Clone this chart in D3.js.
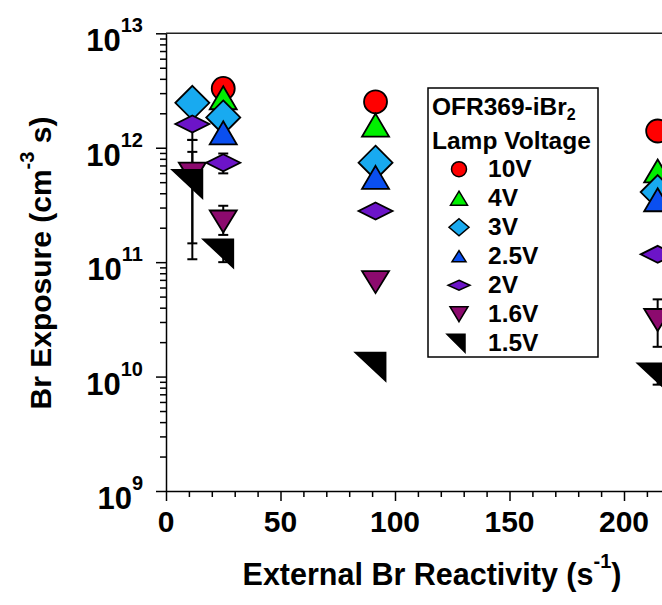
<!DOCTYPE html>
<html>
<head>
<meta charset="utf-8">
<script src="https://cdn.jsdelivr.net/npm/d3@7"></script>
<style>
  body { margin: 0; background: #fff; }
  svg { display: block; background: #fff; }
  text { font-family: "Liberation Sans", Arial, sans-serif; font-weight: bold; fill: #000; }
</style>
</head>
<body>
<svg id="chart"></svg>
<script>
var width = 662, height = 605;

// series, in drawing order
var voltages = ["10V", "4V", "3V", "2.5V", "2V", "1.6V", "1.5V"];
var colors = ["#ff0000", "#00f000", "#18aaf0", "#0a4ff0", "#6c14c8", "#8c0a6e", "#000000"];
var shapes = ["circle", "up", "diamond", "up", "flat", "down", "corner"];

// external Br reactivity (s-1)
var react10V = [25, 91.5, 214.7];
var react4V = [25, 91.5, 214.7];
var react3V = [11.5, 25, 91.5, 214.7];
var react25V = [25, 91.5, 214.7];
var react2V = [11.5, 25, 91.5, 214.7];
var react16V = [11.5, 25, 91.5, 214.7];
var react15V = [11.5, 25, 91.5, 214.7];

// Br exposure (cm-3 s)
var expo10V = [3.3e12, 2.52e12, 1.4e12];
var expo4V = [2.53e12, 1.46e12, 5.8e11];
var expo3V = [2.47e12, 1.84e12, 7.4e11, 4.1e11];
var expo25V = [1.25e12, 5.1e11, 3.25e11];
var expo2V = [1.61e12, 7.4e11, 2.8e11, 1.17e11];
var expo16V = [6.4e11, 2.44e11, 7.2e10, 3.36e10];
var expo15V = [5.3e11, 1.31e11, 1.34e10, 1.08e10];

// error bar ends (null = no bar)
var low2V = [1.17e12, 5.97e11, null, null];
var high2V = [2.2e12, 8.9e11, null, null];
var low16V = [1.46e11, 1.73e11, null, 1.82e10];
var high16V = [9.2e11, 3.11e11, null, 4.73e10];
var low15V = [1.06e11, 1.0e11, null, 8.5e9];
var high15V = [1.17e12, 1.56e11, null, 1.16e10];

var xMajor = [0, 50, 100, 150, 200];
var yMajor = [1e9, 1e10, 1e11, 1e12, 1e13];
var yExponents = ["9", "10", "11", "12", "13"];

var reacts = [react10V, react4V, react3V, react25V, react2V, react16V, react15V];
var expos = [expo10V, expo4V, expo3V, expo25V, expo2V, expo16V, expo15V];
var lows = [null, null, null, null, low2V, low16V, low15V];
var highs = [null, null, null, null, high2V, high16V, high15V];

// marker sizes [w, h] in plot and in legend
var plotSize = [[23, 23], [27, 23], [34, 34], [27, 23], [34, 17], [27, 22], [30, 28]];
var legendSize = [[15, 15], [17, 14], [20, 17], [14, 11], [22, 10], [18, 15], [18, 18]];

var svg = d3.select("#chart").attr("width", width).attr("height", height);

var x = d3.scaleLinear().domain([0, 240]).range([166, 166 + 240 * 2.29]);
var y = d3.scaleLog().domain([1e9, 1e13]).range([491, 33.3]);

// path of a marker, anchored on its centroid
function shapePath(shape, w, h) {
    if (shape == "circle") {
        var r = w / 2;
        return `M${-r},0A${r},${r} 0 1,0 ${r},0A${r},${r} 0 1,0 ${-r},0Z`;
    } else if (shape == "up") {
        return `M0,${-2 * h / 3}L${w / 2},${h / 3}L${-w / 2},${h / 3}Z`;
    } else if (shape == "down") {
        return `M0,${2 * h / 3}L${w / 2},${-h / 3}L${-w / 2},${-h / 3}Z`;
    } else if (shape == "corner") {
        return `M${-2 * w / 3},${-h / 3}L${w / 3},${-h / 3}L${w / 3},${2 * h / 3}Z`;
    }
    return `M0,${-h / 2}L${w / 2},0L0,${h / 2}L${-w / 2},0Z`;
}

// offset from box centre to centroid
function centroidShift(shape, w, h) {
    if (shape == "up") return [0, h / 6];
    if (shape == "down") return [0, -h / 6];
    if (shape == "corner") return [w / 6, -h / 6];
    return [0, 0];
}

// axes
var axisColor = "#000";
svg.append("g")
    .attr("transform", `translate(0,${y(1e9)})`)
    .call(d3.axisBottom(x).tickValues(xMajor).tickSize(10).tickSizeOuter(0).tickFormat(""));
var xMinor = d3.range(10, 240, 10).filter(d => d % 50 != 0);
svg.append("g")
    .attr("transform", `translate(0,${y(1e9)})`)
    .call(d3.axisBottom(x).tickValues(xMinor).tickSize(6).tickFormat(""))
    .select(".domain").remove();

svg.append("g")
    .attr("transform", `translate(${x(0)},0)`)
    .call(d3.axisLeft(y).tickValues(yMajor).tickSize(10).tickSizeOuter(0).tickFormat(""));
var yMinor = [];
for (let e = 9; e < 13; e++) {
    for (let m = 2; m < 10; m++) yMinor.push(m * Math.pow(10, e));
}
svg.append("g")
    .attr("transform", `translate(${x(0)},0)`)
    .call(d3.axisLeft(y).tickValues(yMinor).tickSize(6).tickFormat(""))
    .select(".domain").remove();

svg.append("line")
    .attr("x1", x(0)).attr("x2", x(240))
    .attr("y1", y(1e13)).attr("y2", y(1e13))
    .attr("stroke", "#222").attr("stroke-width", 1.5);

svg.selectAll(".domain, .tick line").attr("stroke", axisColor).attr("stroke-width", 1.5);

// tick labels
svg.selectAll(".xlab")
    .data(xMajor)
    .enter().append("text")
    .attr("class", "xlab")
    .attr("x", d => x(d))
    .attr("y", 532)
    .attr("text-anchor", "middle")
    .attr("font-size", "30px")
    .text(d => d);

var ylab = svg.selectAll(".ylab")
    .data(yMajor)
    .enter().append("text")
    .attr("class", "ylab")
    .attr("x", 143)
    .attr("y", d => y(d) + 18)
    .attr("text-anchor", "end")
    .attr("font-size", "31px");
ylab.append("tspan").text("10");
ylab.append("tspan")
    .attr("font-size", "20px")
    .attr("dy", -19)
    .text((d, i) => yExponents[i]);

// axis titles
var xTitle = svg.append("text")
    .attr("x", 432)
    .attr("y", 585)
    .attr("text-anchor", "middle")
    .attr("font-size", "30.5px");
xTitle.append("tspan").text("External Br Reactivity (s");
xTitle.append("tspan").attr("font-size", "20px").attr("dy", -17).text("-1");
xTitle.append("tspan").attr("dy", 17).text(")");

var yTitle = svg.append("text")
    .attr("transform", "translate(51,263) rotate(-90)")
    .attr("text-anchor", "middle")
    .attr("font-size", "30px");
yTitle.append("tspan").text("Br Exposure (cm");
yTitle.append("tspan").attr("font-size", "20px").attr("dy", -17).text("-3");
yTitle.append("tspan").attr("dy", 17).text(" s)");

// error bars under the markers
var capHalf = 5;
var bars = [];
voltages.forEach(function (v, s) {
    if (!lows[s]) return;
    reacts[s].forEach(function (r, i) {
        if (lows[s][i] != null) bars.push({ r: r, lo: lows[s][i], hi: highs[s][i] });
    });
});
var barG = svg.append("g").attr("stroke", "#000").attr("stroke-width", 2);
barG.selectAll(".ebar")
    .data(bars)
    .enter().append("line")
    .attr("x1", d => x(d.r)).attr("x2", d => x(d.r))
    .attr("y1", d => y(d.lo)).attr("y2", d => y(d.hi));
barG.selectAll(".capLo")
    .data(bars)
    .enter().append("line")
    .attr("x1", d => x(d.r) - capHalf).attr("x2", d => x(d.r) + capHalf)
    .attr("y1", d => y(d.lo)).attr("y2", d => y(d.lo));
barG.selectAll(".capHi")
    .data(bars)
    .enter().append("line")
    .attr("x1", d => x(d.r) - capHalf).attr("x2", d => x(d.r) + capHalf)
    .attr("y1", d => y(d.hi)).attr("y2", d => y(d.hi));

// markers
voltages.forEach(function (v, s) {
    var pts = reacts[s].map((r, i) => ({ r: r, e: expos[s][i] }));
    svg.append("g").selectAll("path")
        .data(pts)
        .enter().append("path")
        .attr("transform", d => `translate(${x(d.r)},${y(d.e)})`)
        .attr("d", shapePath(shapes[s], plotSize[s][0], plotSize[s][1]))
        .attr("fill", colors[s])
        .attr("stroke", "#000")
        .attr("stroke-width", 1.8)
        .attr("stroke-linejoin", "miter");
});

// legend
var legend = svg.append("g");
legend.append("rect")
    .attr("x", 428).attr("y", 88)
    .attr("width", 170).attr("height", 269)
    .attr("fill", "#fff")
    .attr("stroke", "#000")
    .attr("stroke-width", 1.5);

var lt = legend.append("text")
    .attr("x", 432).attr("y", 115)
    .attr("font-size", "24.5px");
lt.append("tspan").text("OFR369-iBr");
lt.append("tspan").attr("font-size", "16px").attr("dy", 5).text("2");
legend.append("text")
    .attr("x", 432).attr("y", 149)
    .attr("font-size", "24.5px")
    .text("Lamp Voltage");

var rowBase = 176.7, rowStep = 29;
voltages.forEach(function (v, s) {
    var w = legendSize[s][0], h = legendSize[s][1];
    var sh = centroidShift(shapes[s], w, h);
    var cx = s == 6 ? 456 : 459;
    var cy = rowBase + s * rowStep - 7.5;
    legend.append("path")
        .attr("transform", `translate(${cx + sh[0]},${cy + sh[1]})`)
        .attr("d", shapePath(shapes[s], w, h))
        .attr("fill", colors[s])
        .attr("stroke", "#000")
        .attr("stroke-width", 1.5);
    legend.append("text")
        .attr("x", 488)
        .attr("y", rowBase + s * rowStep)
        .attr("font-size", "24.5px")
        .text(v);
});
</script>
</body>
</html>
